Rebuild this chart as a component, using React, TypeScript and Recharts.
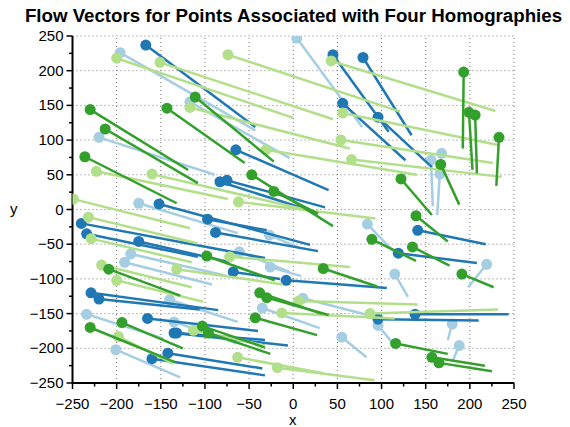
import React from "react";
import { ScatterChart, Scatter, XAxis, YAxis, ReferenceLine } from "recharts";

// each vector: [x0, y0, x1, y1], dot drawn at the start
const lightBlue = [
  [-196, 226, -43, 114], [4, 247, 78, 119], [-117, 155, -4, 74], [-220, 104, -89, 50],
  [-175, 9, -63, -34], [-184, -64, -77, -95], [-191, -76, -92, -108], [-27, -37, 8, -56],
  [84, -21, 113, -60], [-61, -61, -4, -90], [219, -79, 198, -112], [115, -93, 130, -126],
  [-140, -130, -63, -162], [-234, -151, -147, -186], [-135, -162, -64, -193], [-201, -202, -128, -242],
  [11, -128, 93, -155], [-35, -142, 30, -171], [55, -184, 83, -213], [96, -167, 113, -193],
  [180, -165, 175, -188], [188, -196, 181, -217], [168, 81, 166, 52], [156, 71, 158, 5],
  [166, 51, 163, -8], [-26, -83, 9, -96],
];
const darkBlue = [
  [-167, 237, -43, 119], [45, 223, 108, 112], [79, 219, 134, 107], [56, 153, 127, 71],
  [96, 133, 157, 61], [-65, 86, 40, 28], [-83, 40, 28, -5], [-75, 42, 36, 3],
  [-152, 8, 19, -51], [-240, -20, -32, -70], [-97, -14, -30, -30], [-234, -35, -108, -68],
  [-175, -46, -72, -76], [-88, -33, 28, -60], [-68, -90, -15, -100], [-8, -102, 106, -113],
  [141, -30, 218, -50], [119, -63, 208, -77], [-229, -120, -85, -145], [-220, -129, -106, -144],
  [-165, -157, -40, -175], [-135, -178, -6, -196], [-132, -178, -32, -188], [-142, -207, -35, -229],
  [-160, -215, -32, -239], [96, -158, 210, -160], [138, -151, 244, -151],
];
const lightGreen = [
  [-200, 218, 0, 132], [-151, 212, 45, 130], [-74, 223, 121, 141], [43, 214, 229, 142],
  [-117, 147, 64, 88], [56, 139, 232, 93], [54, 100, 226, 67], [66, 72, 236, 47],
  [-31, 86, 140, 50], [-223, 55, -74, 15], [-160, 51, 27, -4], [-249, 15, -117, -27],
  [-232, -11, -108, -49], [-229, -42, -115, -76], [-217, -80, -115, -112], [-132, -86, -12, -108],
  [-62, 11, 93, -13], [-72, -68, 64, -83], [-200, -102, -102, -133], [-113, -174, -32, -196],
  [-198, -183, -136, -222], [6, -132, 141, -137], [-13, -149, 115, -157], [87, -150, 232, -144],
  [-63, -213, 34, -236], [-18, -228, 92, -246],
];
const darkGreen = [
  [193, 198, 192, 88], [199, 140, 203, 57], [206, 136, 208, 52], [233, 104, 230, 34],
  [-111, 162, -22, 69], [-230, 144, -119, 57], [-143, 146, -55, 67], [-213, 116, -108, 38],
  [-236, 76, -132, 9], [-47, 50, 45, -24], [-22, 26, 28, -6], [-98, -67, -21, -102],
  [-209, -86, -128, -124], [89, -43, 139, -74], [34, -85, 95, -111], [167, 65, 188, 7],
  [122, 44, 157, -8], [139, -9, 175, -46], [135, -54, 177, -81], [191, -93, 227, -112],
  [-194, -163, -125, -200], [-230, -170, -134, -220], [-103, -168, -32, -199], [-96, -178, -26, -208],
  [-38, -120, 32, -150], [-30, -127, 40, -152], [-43, -156, 27, -181], [116, -193, 175, -208],
  [157, -213, 217, -225], [165, -221, 225, -233],
];

const groups = [
  { key: "lb", color: "#a6cee3", vecs: lightBlue },
  { key: "db", color: "#1f78b4", vecs: darkBlue },
  { key: "lg", color: "#b2df8a", vecs: lightGreen },
  { key: "dg", color: "#33a02c", vecs: darkGreen },
];

const ticks = [];
for (let v = -250; v <= 250; v += 25) ticks.push(v);
const gridVals = [-200, -150, -100, -50, 0, 50, 100, 150, 200, 250];

const FONT = "'Liberation Sans', Arial, sans-serif";
const fmt = (v: number) => (v < 0 ? "\u2212" + Math.abs(v) : String(v));

const XTick = (p: any) => {
  const v = p.payload.value;
  const major = v % 50 === 0;
  return (
    <g>
      <line x1={p.x} x2={p.x} y1={p.y} y2={p.y + (major ? 6 : 3.5)} stroke="#000" strokeWidth={1.5} />
      {major && (
        <text x={p.x} y={p.y + 26} textAnchor="middle" fontSize={15} fontFamily={FONT} fill="#000">
          {fmt(v)}
        </text>
      )}
    </g>
  );
};

const YTick = (p: any) => {
  const v = p.payload.value;
  const major = v % 50 === 0;
  return (
    <g>
      <line x1={p.x} x2={p.x - (major ? 6 : 3.5)} y1={p.y} y2={p.y} stroke="#000" strokeWidth={1.5} />
      {major && (
        <text x={p.x - 9} y={p.y + 5} textAnchor="end" fontSize={15} fontFamily={FONT} fill="#000">
          {fmt(v)}
        </text>
      )}
    </g>
  );
};

const dot = (color: string) => (p: any) =>
  p.payload && p.payload.start ? <circle cx={p.cx} cy={p.cy} r={5.5} fill={color} /> : <g />;

export default function App() {
  return (
    <div style={{ position: "absolute", left: 0, top: 0, width: 570, height: 427, background: "#fff" }}>
      <div
        style={{
          position: "absolute", left: 0, width: 587, top: 5, textAlign: "center",
          fontFamily: FONT, fontWeight: "bold", fontSize: 18.7, color: "#000",
        }}
      >
        Flow Vectors for Points Associated with Four Homographies
      </div>
      <ScatterChart width={570} height={427} margin={{ top: 36, right: 56, bottom: 14, left: 32.5 }}>
        <XAxis
          type="number" dataKey="x" domain={[-250, 250]} ticks={ticks} interval={0}
          tick={<XTick />} tickLine={false} tickSize={0} tickMargin={0} height={30}
          axisLine={{ stroke: "#000", strokeWidth: 2 }} allowDataOverflow
        />
        <YAxis
          type="number" dataKey="y" domain={[-250, 250]} ticks={ticks} interval={0}
          tick={<YTick />} tickLine={false} tickSize={0} tickMargin={0} width={40}
          axisLine={{ stroke: "#000", strokeWidth: 2 }} allowDataOverflow
        />
        {gridVals.map((v) => (
          <ReferenceLine key={"gx" + v} x={v} stroke="#777" strokeDasharray="1 3" />
        ))}
        {gridVals.map((v) => (
          <ReferenceLine key={"gy" + v} y={v} stroke="#777" strokeDasharray="1 3" />
        ))}
        {groups.map((g) =>
          g.vecs.map((v, i) => (
            <Scatter
              key={g.key + i}
              data={[{ x: v[0], y: v[1], start: true }, { x: v[2], y: v[3], start: false }]}
              fill={g.color}
              line={{ stroke: g.color, strokeWidth: 2.5 }}
              shape={dot(g.color)}
              isAnimationActive={false}
            />
          ))
        )}
      </ScatterChart>
      <div style={{ position: "absolute", left: 289, top: 411, fontFamily: FONT, fontSize: 15 }}>x</div>
      <div style={{ position: "absolute", left: 10, top: 200, fontFamily: FONT, fontSize: 15 }}>y</div>
    </div>
  );
}
